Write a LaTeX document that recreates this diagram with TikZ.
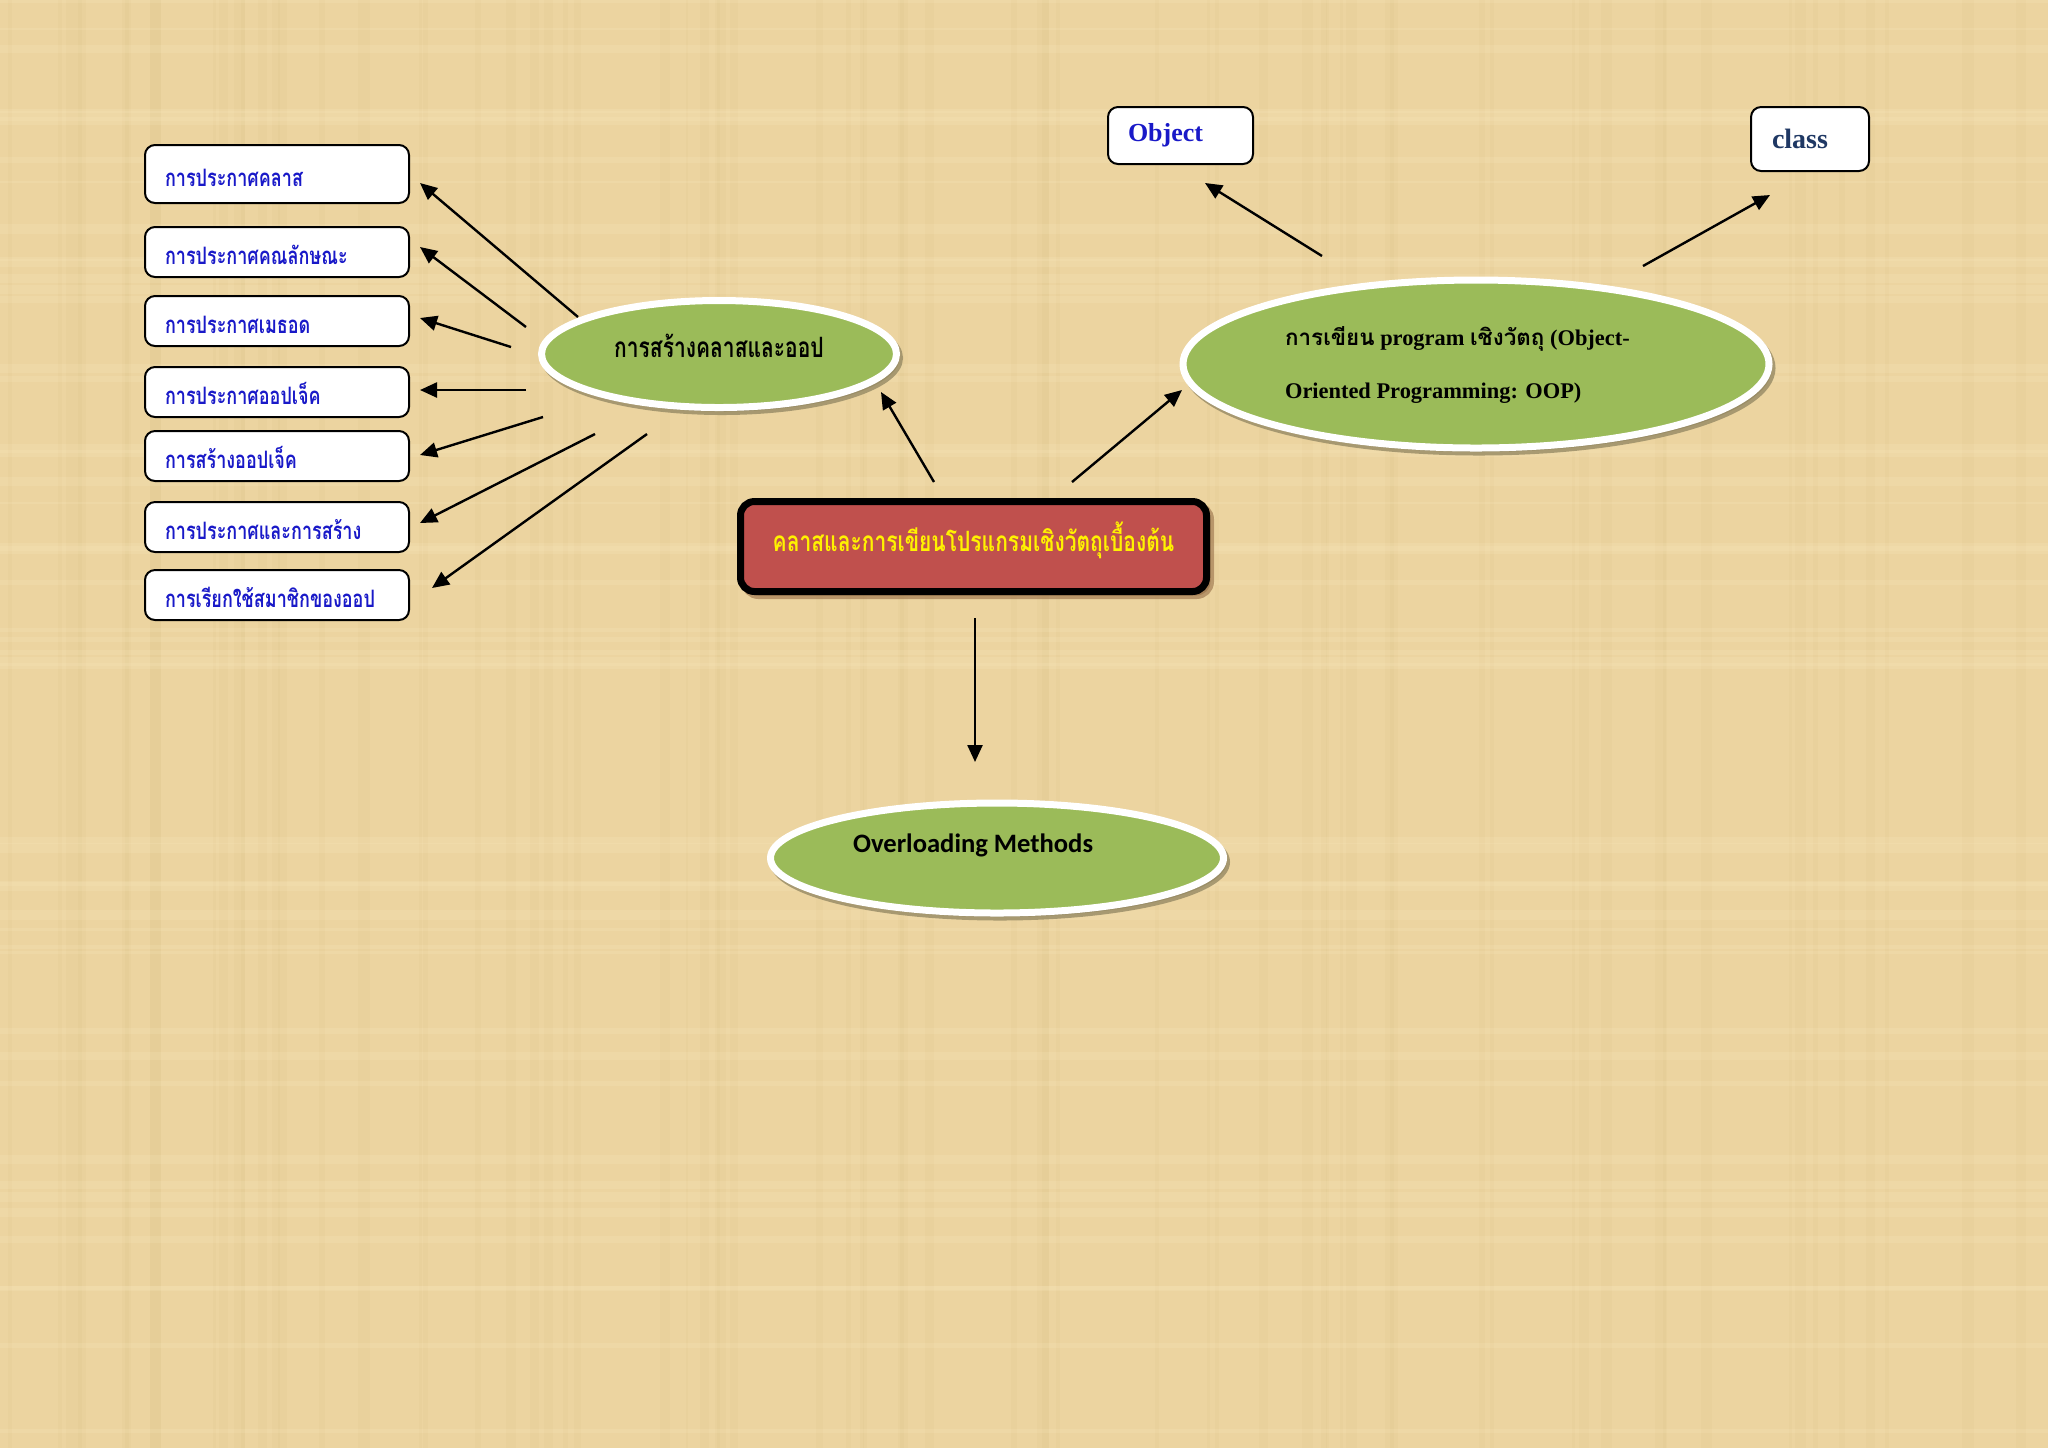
\documentclass[tikz,border=0pt]{standalone}
\usepackage{fontspec}
\setmainfont{Liberation Serif}
\newfontfamily\thaifont[Script=Thai,FakeStretch=0.75]{Loma}
\newfontfamily\thaiplain[Script=Thai]{Loma}
\newfontfamily\calfont{Carlito}
\usetikzlibrary{shapes.geometric,shadows,arrows.meta}

\definecolor{paper}{RGB}{236,212,160}
\definecolor{paperdark}{RGB}{205,175,115}
\definecolor{paperlight}{RGB}{248,232,190}
\definecolor{leafgreen}{RGB}{155,187,89}
\definecolor{titlered}{RGB}{192,80,77}
\definecolor{itemblue}{RGB}{25,25,200}
\definecolor{classnavy}{RGB}{31,56,100}
\definecolor{ringshadow}{RGB}{150,138,100}
\definecolor{boxshadow}{RGB}{150,110,70}

\tikzset{
  itembox/.style={draw=black, line width=1pt, fill=white, rounded corners=5pt,
    minimum height=25pt, text width=112pt, inner xsep=10pt, align=left,
    text height=13pt, text depth=1pt, text=itemblue,
    font=\thaifont\bfseries\fontsize{12}{12}\selectfont},
  wordbox/.style={draw=black, line width=1pt, fill=white, rounded corners=5pt,
    inner xsep=10pt, align=left},
  greenoval/.style={ellipse, fill=leafgreen, draw=white, line width=3.5pt, inner sep=0pt,
    drop shadow={shadow xshift=1.5pt, shadow yshift=-2pt, fill=ringshadow,
      draw=ringshadow, line width=3.5pt, opacity=0.8}},
  titlebox/.style={draw=black, line width=3.5pt, fill=titlered, rounded corners=7pt,
    inner sep=0pt, minimum width=233pt, minimum height=45pt, text=yellow,
    text height=11pt, text depth=6pt,
    font=\thaifont\bfseries\fontsize{14}{14}\selectfont,
    drop shadow={shadow xshift=2pt, shadow yshift=-2pt, fill=boxshadow,
      draw=boxshadow, line width=3.5pt, opacity=0.6}},
  arr/.style={-{Triangle[length=8.5pt,width=7.5pt]}, line width=1.2pt, black}
}

\begin{document}
\begin{tikzpicture}[x=0.5pt, y=-0.5pt]

    % background paper
    \fill[paper] (0,0) rectangle (2048,1448);
    \useasboundingbox (0,0) rectangle (2048,1448);
    \pgfmathsetseed{7}
    \foreach \k in {1,...,70} {
        \pgfmathsetmacro{\px}{rnd*2048}
        \pgfmathsetmacro{\pw}{2+rnd*10}
        \fill[paperdark, opacity=0.08] (\px,0) rectangle ++(\pw,1448);
    }
    \foreach \k in {1,...,50} {
        \pgfmathsetmacro{\py}{rnd*1448}
        \pgfmathsetmacro{\ph}{2+rnd*8}
        \fill[paperlight, opacity=0.2] (0,\py) rectangle ++(2048,\ph);
    }

    % left column of topics
    \node[itembox, minimum height=29pt] (b1) at (277,174) {การประกาศคลาส};
    \node[itembox] (b2) at (277,252) {การประกาศคณลักษณะ};
    \node[itembox] (b3) at (277,321) {การประกาศเมธอด};
    \node[itembox] (b4) at (277,392) {การประกาศออปเจ็ค};
    \node[itembox] (b5) at (277,456) {การสร้างออปเจ็ค};
    \node[itembox] (b6) at (277,527) {การประกาศและการสร้าง};
    \node[itembox] (b7) at (277,595) {การเรียกใช้สมาชิกของออป};

    % ellipses
    \node[greenoval, minimum width=177.5pt, minimum height=53.5pt, text height=10pt, text depth=7pt,
          font=\thaifont\bfseries\fontsize{14}{14}\selectfont] (make) at (719,354) {การสร้างคลาสและออป};
    \node[greenoval, minimum width=293pt, minimum height=84pt] (oop) at (1476,364) {};
    \node[greenoval, minimum width=226.5pt, minimum height=55pt] (ovl) at (997,858) {};

    \node[anchor=base west, align=left, font=\bfseries\fontsize{11.2}{26.5}\selectfont] (oopText) at (1278,398)
        {{\thaiplain การเขียน} program {\thaiplain เชิงวัตถุ} (Object-\\Oriented Programming: OOP)};
    \node[anchor=base west, font=\calfont\bfseries\fontsize{13.3}{13.3}\selectfont] (ovlText) at (846,852)
        {Overloading Methods};

    % title
    \node[titlebox] (title) at (973.5,546.5) {คลาสและการเขียนโปรแกรมเชิงวัตถุเบื้องต้น};

    % top right boxes
    \node[wordbox, minimum width=72.5pt, minimum height=28.5pt, text width=52.5pt,
          text=itemblue, font=\bfseries\fontsize{13}{13}\selectfont] (object) at (1180.5,135.5) {Object};
    \node[wordbox, minimum width=59pt, minimum height=32pt, text width=38pt,
          text=classnavy, font=\bfseries\fontsize{14}{14}\selectfont] (class) at (1810,139) {class};

    % arrows from the green ellipse to the topics
    \foreach \sx/\sy/\tx/\ty [count=\i] in {578/317/420/183, 526/327/420/247, 511/347/420/318,
            526/390/420/390, 543/417/420/455, 595/434/420/523, 647/434/432/588} {
        \coordinate (s\i) at (\sx,\sy);
        \coordinate (t\i) at (\tx,\ty);
        \draw[arr] (s\i) -- (t\i);
    }

    % arrows around the title
    \coordinate (titleNW) at (934,482);
    \coordinate (makeTip) at (881,392);
    \coordinate (titleNE) at (1072,482);
    \coordinate (oopTip) at (1182,390);
    \coordinate (titleS) at (975,618);
    \coordinate (ovlTip) at (975,762);
    \draw[arr] (titleNW) -- (makeTip);
    \draw[arr] (titleNE) -- (oopTip);
    \draw[arr] (titleS) -- (ovlTip);

    % arrows from the OOP ellipse
    \coordinate (oopNW) at (1322,256);
    \coordinate (objectTip) at (1205,183);
    \coordinate (oopNE) at (1643,266);
    \coordinate (classTip) at (1770,195);
    \draw[arr] (oopNW) -- (objectTip);
    \draw[arr] (oopNE) -- (classTip);

\end{tikzpicture}
\end{document}
